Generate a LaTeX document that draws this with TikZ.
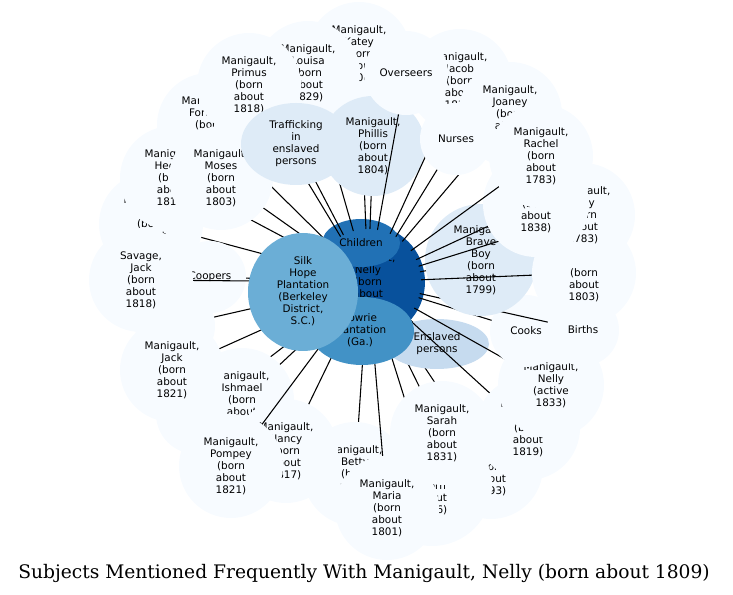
\documentclass[tikz,border=0pt]{standalone}
\usepackage{fontspec}
\setmainfont{DejaVu Sans}
\newfontfamily\titlefont{DejaVu Serif}
\definecolor{blues0}{HTML}{F7FBFF}
\definecolor{blues1}{HTML}{DEEBF7}
\definecolor{blues2}{HTML}{C6DBEF}
\definecolor{blues4}{HTML}{6BAED6}
\definecolor{blues5}{HTML}{4292C6}
\definecolor{blues6}{HTML}{2171B5}
\definecolor{blues7}{HTML}{08519C}
\begin{document}
\begin{tikzpicture}[x=0.75pt, y=-0.75pt, line join=round, line cap=round,
  lbl/.style={font=\fontsize{7.8}{9}\selectfont, align=center, inner sep=0pt, text=black},
  edge/.style={draw=black, line width=0.8pt, shorten <=40pt}]
\useasboundingbox (0,0) rectangle (733,595);
\coordinate (nelly) at (368,282);
\fill[blues7] (nelly) circle (57);
\node[lbl] (nelly-t) at (nelly) {Manigault,\\Nelly\\(born\\about\\1809)};
\coordinate (children) at (361,243);
\fill[blues6] (children) ellipse [x radius=39, y radius=24];
\node[lbl] (children-t) at (children) {Children};
\foreach \nm/\pos/\rx/\ry/\col/\txt in {
  katey/{359,54}/52/52/blues0/{Manigault,\\Katey\\(born\\about\\1800)},
  louisa/{308,73}/52/52/blues0/{Manigault,\\Louisa\\(born\\about\\1829)},
  fortune/{209,125}/52/52/blues0/{Manigault,\\Fortune\\(born\\about\\1800)},
  tony/{151,224}/52/52/blues0/{Manigault,\\Tony\\(born\\about\\1815)},
  hector/{172,178}/52/52/blues0/{Manigault,\\Hector\\(born\\about\\1810)},
  moses/{221,178}/52/52/blues0/{Manigault,\\Moses\\(born\\about\\1803)},
  primus/{249,85}/52/52/blues0/{Manigault,\\Primus\\(born\\about\\1818)},
  hidea/{175,326}/40/40/blues0/{},
  coopers/{210,277}/36/36/blues0/{Coopers},
  savage/{141,280}/52/52/blues0/{Savage,\\Jack\\(born\\about\\1818)},
  hideb/{196,414}/40/40/blues0/{},
  ishmael/{242,400}/52/52/blues0/{Manigault,\\Ishmael\\(born\\about\\1825)},
  jack/{172,370}/52/52/blues0/{Manigault,\\Jack\\(born\\about\\1821)},
  betty/{355,474}/52/52/blues0/{Manigault,\\Betty\\(born\\about\\1820)},
  nancy/{286,451}/52/52/blues0/{Manigault,\\Nancy\\(born\\about\\1817)},
  pompey/{231,466}/52/52/blues0/{Manigault,\\Pompey\\(born\\about\\1821)},
  hagar/{491,467}/52/52/blues0/{Manigault,\\Hagar\\(born\\about\\1793)},
  cuffee/{432,486}/60/60/blues0/{Manigault,\\Cuffee\\(born\\about\\1826)},
  maria/{387,508}/52/52/blues0/{Manigault,\\Maria\\(born\\about\\1801)},
  sarah/{442,433}/52/52/blues0/{Manigault,\\Sarah\\(born\\about\\1831)},
  enslaved/{437,344}/52/25/blues2/{Enslaved\\persons},
  cato/{528,428}/52/52/blues0/{Manigault,\\Cato\\(born\\about\\1819)},
  nellyact/{551,385}/53/53/blues0/{Manigault,\\Nelly\\(active\\1833)},
  cooks/{526,331}/36/36/blues0/{Cooks},
  births/{583,330}/36/36/blues0/{Births},
  trafficking/{296,144}/55/41/blues1/{Trafficking\\in\\enslaved\\persons},
  phillis/{373,146}/52/50/blues1/{Manigault,\\Phillis\\(born\\about\\1804)},
  jacob/{460,81}/52/52/blues0/{Manigault,\\Jacob\\(born\\about\\1810)},
  overseers/{406,73}/42/42/blues0/{Overseers},
  joaney/{510,114}/52/52/blues0/{Manigault,\\Joaney\\(born\\about\\1800)},
  nurses/{456,139}/36/36/blues0/{Nurses},
  braveboy/{481,260}/56/56/blues1/{Manigault,\\Brave\\Boy\\(born\\about\\1799)},
  binah/{584,273}/52/52/blues0/{Manigault,\\Binah\\(born\\about\\1803)},
  amy/{583,215}/52/52/blues0/{Manigault,\\Amy\\(born\\about\\1783)},
  rose/{536,204}/53/53/blues0/{Manigault,\\Rose\\(born\\about\\1838)},
  rachel/{541,156}/52/52/blues0/{Manigault,\\Rachel\\(born\\about\\1783)}%
}{
  \coordinate (\nm) at (\pos);
  \draw[edge] (nelly) -- (\nm);
  \fill[\col] (\nm) ellipse [x radius=\rx, y radius=\ry];
  \node[lbl] (\nm-t) at (\nm) {\txt};
}
\coordinate (lowrie) at (362,331);
\fill[blues5] (lowrie) ellipse [x radius=52, y radius=34];
\node[lbl] (lowrie-t) at (360,330) {Lowrie\\Plantation\\(Ga.)};
\coordinate (silkhope) at (303,292);
\fill[blues4] (silkhope) ellipse [x radius=55, y radius=59];
\node[lbl] (silkhope-t) at (303,291) {Silk\\Hope\\Plantation\\(Berkeley\\District,\\S.C.)};
\node[font=\titlefont\fontsize{14}{16}\selectfont, inner sep=0pt] (title) at (364,573) {Subjects Mentioned Frequently With Manigault, Nelly (born about 1809)};
\end{tikzpicture}
\end{document}
